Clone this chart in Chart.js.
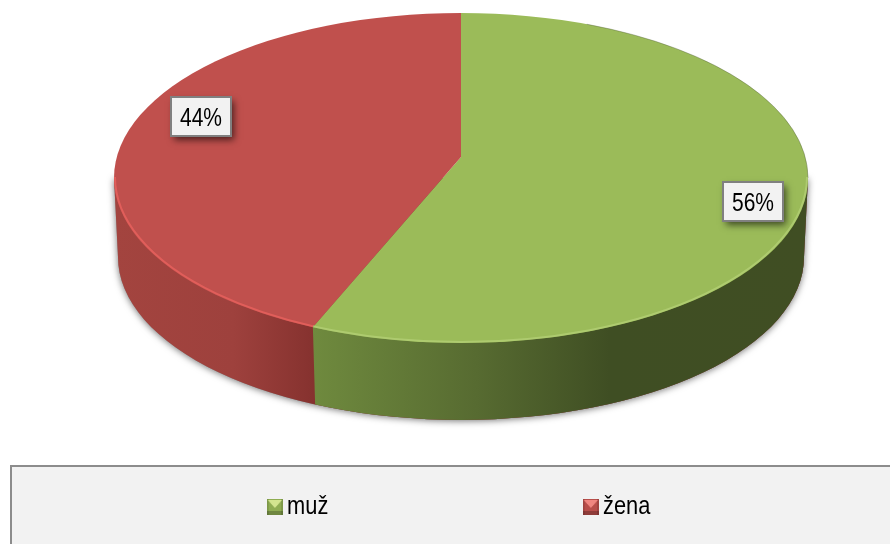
<!DOCTYPE html>
<html>
<head>
<meta charset="utf-8">
<style>html,body{margin:0;padding:0;background:#fff;overflow:hidden}canvas{display:block}</style>
<script src="https://cdn.jsdelivr.net/npm/chart.js@4"></script>
</head>
<body>
<canvas id="c" width="890" height="544"></canvas>
<script>
const categories = ['muž', 'žena'];
const shares = [56, 44];
const sliceColors = ['#9BBB59', '#C0504D'];
const rimColors = ['#BBD67E', '#E8625E'];
const FONT = '"Liberation Sans",Arial,sans-serif';
const NARROW = 0.84;

const top3d = {cx: 461, cy: 178, rx: 347, ry: 165};
const bot3d = {cx: 461, cy: 257, rx: 343, ry: 163};
const apex = {x: 461, y: 157};
const squash = 0.455;
const labelBoxes = [{x: 723, y: 182, w: 60, h: 39}, {x: 171, y: 97, w: 60, h: 39}];

function marker(color, light) {
  const m = document.createElement('canvas');
  m.width = 19; m.height = 16;
  const g = m.getContext('2d');
  g.fillStyle = color; g.fillRect(0, 0, 19, 16);
  g.fillStyle = 'rgba(0,0,0,0.22)'; g.fillRect(0, 12, 19, 4);
  g.fillStyle = 'rgba(0,0,0,0.12)'; g.fillRect(0, 0, 2, 16); g.fillRect(17, 0, 2, 16);
  g.fillStyle = light;
  g.beginPath(); g.moveTo(1, 1); g.lineTo(18, 1); g.lineTo(9.5, 9); g.closePath(); g.fill();
  return m;
}
const markers = [marker('#8FAD52', '#D3E58F'), marker('#B84E4A', '#F08680')];

function ellipsePath(ctx, e) {
  ctx.ellipse(e.cx, e.cy, e.rx, e.ry, 0, 0, Math.PI * 2);
}
function rimPoint(angle) {
  const dx = Math.cos(angle), dy = squash * Math.sin(angle);
  const ax = (apex.x - top3d.cx) / top3d.rx, ay = (apex.y - top3d.cy) / top3d.ry;
  const bx = dx / top3d.rx, by = dy / top3d.ry;
  const a = bx * bx + by * by, b = 2 * (ax * bx + ay * by), c = ax * ax + ay * ay - 1;
  const t = (-b + Math.sqrt(b * b - 4 * a * c)) / (2 * a);
  return {x: apex.x + t * dx, y: apex.y + t * dy};
}

const pie3d = {
  id: 'pie3d',
  beforeLayout(chart) {
    const lg = chart.legend;
    if (!lg._wide) {
      lg._wide = true;
      // the two legend entries sit far apart: let them stay on one row
      Object.defineProperty(lg, 'maxWidth', {get: () => 3000, set() {}});
      const draw = lg.draw;
      lg.draw = function () {
        const ctx = chart.ctx;
        ctx.save();
        ctx.translate(462, 0);
        ctx.scale(NARROW, 1);
        ctx.translate(-460, 0);
        draw.call(lg);
        ctx.restore();
      };
    }
  },
  beforeDraw(chart) {
    const ctx = chart.ctx;
    ctx.save();
    ctx.fillStyle = '#fff';
    ctx.fillRect(0, 0, 890, 544);
    ctx.fillStyle = '#F2F2F2';
    ctx.strokeStyle = '#8C8C8C';
    ctx.lineWidth = 2;
    ctx.fillRect(11, 466, 890, 90);
    ctx.strokeRect(11, 466, 890, 90);
    ctx.restore();
  },
  afterLayout(chart) {
    const lg = chart.legend;
    lg.left = 460 - 1500; lg.right = 460 + 1500; lg.width = 3000;
    lg.top = 509 - lg.options.labels.padding - 15;
  },
  beforeDatasetsDraw(chart) {
    const ctx = chart.ctx;
    const arcs = chart.getDatasetMeta(0).data;
    const split = rimPoint(arcs[0].endAngle);
    const wall = () => {
      ctx.beginPath();
      ctx.ellipse(bot3d.cx, bot3d.cy, bot3d.rx, bot3d.ry, 0, 0, Math.PI);
      ctx.lineTo(top3d.cx - top3d.rx, top3d.cy);
      ctx.lineTo(top3d.cx + top3d.rx, top3d.cy);
      ctx.closePath();
    };
    ctx.save();
    ctx.shadowColor = 'rgba(0,0,0,0.55)';
    ctx.shadowBlur = 7;
    ctx.shadowOffsetX = 0;
    ctx.shadowOffsetY = 1;
    ctx.fillStyle = '#888';
    wall();
    ctx.fill();
    ctx.restore();

    const xb = split.x + 3;
    const green = ctx.createLinearGradient(split.x, 0, 808, 0);
    green.addColorStop(0, '#6F8A3E');
    green.addColorStop(0.33, '#576B31');
    green.addColorStop(0.6, '#3F4E23');
    green.addColorStop(1, '#404E23');
    const red = ctx.createLinearGradient(114, 0, split.x, 0);
    red.addColorStop(0, '#A3443F');
    red.addColorStop(0.6, '#9E413D');
    red.addColorStop(1, '#86322F');

    ctx.save();
    wall();
    ctx.clip();
    ctx.fillStyle = red;
    ctx.fillRect(100, 170, 720, 260);
    ctx.fillStyle = green;
    ctx.beginPath();
    ctx.moveTo(split.x, split.y);
    ctx.lineTo(xb, 430);
    ctx.lineTo(820, 430);
    ctx.lineTo(820, 170);
    ctx.lineTo(split.x, 170);
    ctx.closePath();
    ctx.fill();
    ctx.restore();

    const el = arcs[0];
    const scale = 600 / el.outerRadius;
    ctx.save();
    ctx.beginPath();
    ellipsePath(ctx, top3d);
    ctx.clip();
    ctx.translate(apex.x, apex.y);
    ctx.scale(scale, scale * squash);
    ctx.translate(-el.x, -el.y);
  },
  afterDatasetsDraw(chart) {
    const ctx = chart.ctx;
    ctx.restore();
    const arcs = chart.getDatasetMeta(0).data;
    const split = rimPoint(arcs[0].endAngle);

    // soft dark edge on the far right of the top face
    ctx.save();
    ctx.beginPath();
    ctx.ellipse(top3d.cx, top3d.cy, top3d.rx, top3d.ry, 0, -1.2, 0);
    ctx.strokeStyle = 'rgba(70,80,50,0.35)';
    ctx.lineWidth = 1;
    ctx.stroke();
    ctx.restore();

    // lit rim along the front edge of the top face
    [[0, split.x, 900], [1, 0, split.x]].forEach(([i, x0, x1]) => {
      ctx.save();
      ctx.beginPath();
      ctx.rect(x0, 170, x1 - x0, 200);
      ctx.clip();
      ctx.beginPath();
      ctx.ellipse(top3d.cx, top3d.cy - 1, top3d.rx - 1, top3d.ry, 0, 0, Math.PI);
      ctx.strokeStyle = rimColors[i];
      ctx.globalAlpha = i === 0 ? 0.6 : 0.8;
      ctx.lineWidth = 2;
      ctx.stroke();
      ctx.restore();
    });

    const total = shares.reduce((a, b) => a + b, 0);
    shares.forEach((v, i) => {
      const b = labelBoxes[i];
      ctx.save();
      ctx.shadowColor = 'rgba(0,0,0,0.6)';
      ctx.shadowBlur = 7;
      ctx.shadowOffsetX = 3;
      ctx.shadowOffsetY = 4;
      ctx.fillStyle = '#F2F2F2';
      ctx.fillRect(b.x, b.y, b.w, b.h);
      ctx.shadowColor = 'transparent';
      ctx.strokeStyle = '#808080';
      ctx.lineWidth = 2;
      ctx.strokeRect(b.x, b.y, b.w, b.h);
      ctx.fillStyle = '#000';
      ctx.font = '25px ' + FONT;
      ctx.textAlign = 'center';
      ctx.textBaseline = 'middle';
      ctx.translate(b.x + b.w / 2, b.y + b.h / 2 + 2.5);
      ctx.scale(NARROW, 1);
      ctx.fillText(Math.round(v / total * 100) + '%', 0, 0);
      ctx.restore();
    });
  }
};

new Chart(document.getElementById('c'), {
  type: 'pie',
  data: {
    labels: categories,
    datasets: [{data: shares, backgroundColor: sliceColors, borderWidth: 0}]
  },
  options: {
    responsive: false,
    animation: false,
    events: [],
    layout: {padding: {left: 30}},
    plugins: {
      tooltip: {enabled: false},
      legend: {
        position: 'bottom',
        maxHeight: 40,
        labels: {
          usePointStyle: true,
          boxWidth: 3,
          boxHeight: 16,
          pointStyleWidth: 3,
          padding: 311,
          color: '#000',
          font: {family: FONT, size: 26},
          generateLabels: () => categories.map((text, i) => ({
            text, pointStyle: markers[i], fillStyle: sliceColors[i], strokeStyle: sliceColors[i],
            lineWidth: 0, hidden: false, index: i, fontColor: '#000'
          }))
        }
      }
    }
  },
  plugins: [pie3d]
});
</script>
</body>
</html>
